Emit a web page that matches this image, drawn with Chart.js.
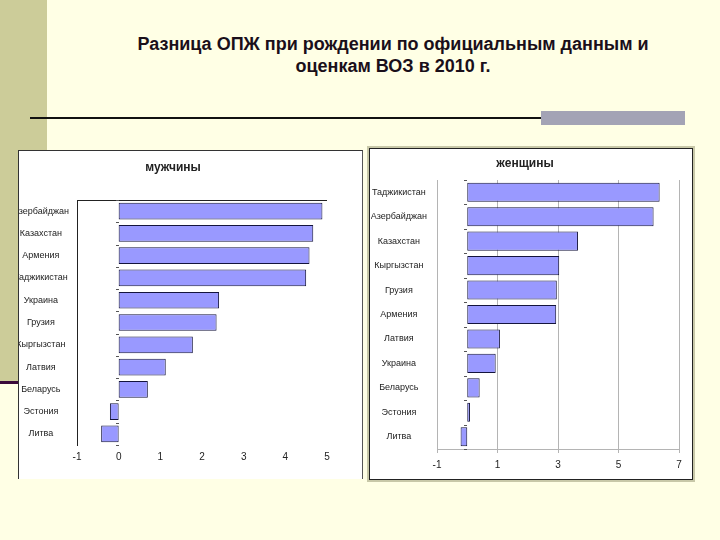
<!DOCTYPE html>
<html lang="ru">
<head>
<meta charset="UTF-8">
<title>Разница ОПЖ</title>
<script src="https://cdn.jsdelivr.net/npm/chart.js"></script>
<style>
  body { margin: 0; background: #ffffe5; font-family: "Liberation Sans", Arial, sans-serif; }
  .slide { position: relative; width: 720px; height: 540px; overflow: hidden; background: #ffffe5; }
  .strip { position: absolute; left: 0; top: 0; width: 47px; height: 381px; background: #cccc99; }
  .strip-line { position: absolute; left: 0; top: 381px; width: 47px; height: 3px; background: #3a0a3a; }
  .title { position: absolute; left: 90px; top: 33px; width: 606px; text-align: center;
           font-weight: bold; font-size: 18px; line-height: 22px; color: #1a0f1a; }
  .rule { position: absolute; left: 30px; top: 117px; width: 512px; height: 2px; background: #111; }
  .rule-block { position: absolute; left: 541px; top: 111px; width: 144px; height: 14px; background: #a3a3b5; }
  .panel-m { position: absolute; left: 18px; top: 150px; width: 343px; height: 328px; background: #fff;
             border-left: 1px solid #333; border-top: 1px solid #333; border-right: 1px solid #555; }
  .panel-w { position: absolute; left: 369px; top: 148px; width: 322px; height: 330px; background: #fff;
             border: 1px solid #222; outline: 2px solid #c8c8a8; }
  canvas { position: absolute; }
</style>
</head>
<body>
<div class="slide">
  <div class="strip"></div>
  <div class="strip-line"></div>
  <div class="title">Разница ОПЖ при рождении по официальным данным и<br>оценкам ВОЗ в 2010 г.</div>
  <div class="rule"></div>
  <div class="rule-block"></div>
  <div class="panel-m"><canvas id="menChart" style="left:0;top:0;width:343px;height:327px"></canvas></div>
  <div class="panel-w"><canvas id="womenChart" style="left:1px;top:1px;width:321px;height:329px"></canvas></div>
</div>

<script>
  // мужчины
  var menLabels = ['Азербайджан', 'Казахстан', 'Армения', 'Таджикистан', 'Украина', 'Грузия',
                   'Кыргызстан', 'Латвия', 'Беларусь', 'Эстония', 'Литва'];
  var menValues = [4.89, 4.67, 4.58, 4.50, 2.41, 2.35, 1.78, 1.13, 0.70, -0.21, -0.42];
  var menTicks = [-1, 0, 1, 2, 3, 4, 5];

  // женщины
  var womenLabels = ['Таджикистан', 'Азербайджан', 'Казахстан', 'Кыргызстан', 'Грузия', 'Армения',
                     'Латвия', 'Украина', 'Беларусь', 'Эстония', 'Литва'];
  var womenValues = [6.36, 6.16, 3.66, 3.04, 2.96, 2.94, 1.08, 0.94, 0.41, 0.09, -0.22];
  var womenTicks = [-1, 1, 3, 5, 7];

  var barFill = '#9999ff';
  var barEdge = '#14143c';
  var catFont = { family: '"Liberation Sans", Arial, sans-serif', size: 9 };
  var valFont = { family: '"Liberation Sans", Arial, sans-serif', size: 10 };

  // top frame line + little category ticks at zero
  var frameLines = {
    id: 'frameLines',
    afterDraw: function (chart, args, opts) {
      var ctx = chart.ctx, a = chart.chartArea;
      var x = chart.scales.x, y = chart.scales.y;
      ctx.save();
      if (opts.top) {
        ctx.strokeStyle = '#222';
        ctx.lineWidth = 1;
        ctx.beginPath();
        ctx.moveTo(a.left, a.top + 0.5);
        ctx.lineTo(a.right, a.top + 0.5);
        ctx.stroke();
      }
      var x0 = Math.round(x.getPixelForValue(0));
      var n = y.ticks.length;
      var band = (a.bottom - a.top) / n;
      ctx.strokeStyle = '#555';
      ctx.lineWidth = 1;
      for (var i = 0; i <= n; i++) {
        var yy = Math.round(a.top + band * i) + 0.5;
        ctx.beginPath();
        ctx.moveTo(x0 - 3, yy);
        ctx.lineTo(x0, yy);
        ctx.stroke();
      }
      ctx.restore();
    }
  };

  function makeChart(id, labels, values, ticks, o) {
    return new Chart(document.getElementById(id), {
      type: 'bar',
      data: {
        labels: labels,
        datasets: [{
          data: values,
          backgroundColor: barFill,
          borderColor: barEdge,
          borderWidth: 1,
          borderSkipped: false,
          categoryPercentage: 1,
          barPercentage: o.barPct
        }]
      },
      options: {
        indexAxis: 'y',
        responsive: false,
        animation: false,
        layout: { padding: { left: 0, right: o.padRight, top: 0, bottom: 0 } },
        plugins: {
          legend: { display: false },
          tooltip: { enabled: false },
          title: {
            display: true,
            text: o.title,
            color: '#222',
            font: { family: '"Liberation Sans", Arial, sans-serif', size: 12, weight: 'bold' },
            padding: o.titlePad
          },
          frameLines: { top: o.topLine }
        },
        scales: {
          x: {
            type: 'linear',
            min: ticks[0],
            max: ticks[ticks.length - 1],
            afterBuildTicks: function (s) { s.ticks = ticks.map(function (v) { return { value: v }; }); },
            afterFit: function (s) { s.height = o.xHeight; },
            grid: { display: o.grid, color: '#b4b4b4', drawTicks: o.grid, tickLength: 4 },
            border: { display: o.grid, color: '#b4b4b4' },
            ticks: { color: '#222', font: valFont, padding: o.xTickPad, maxRotation: 0 }
          },
          y: {
            afterFit: function (s) { s.width = o.yWidth; },
            grid: { display: false },
            border: { display: true, color: o.grid ? '#b4b4b4' : '#222' },
            ticks: { color: '#222', font: catFont, crossAlign: 'center', autoSkip: false, padding: o.yTickPad }
          }
        }
      },
      plugins: [frameLines]
    });
  }

  var menCanvas = document.getElementById('menChart');
  menCanvas.width = 343; menCanvas.height = 327;
  var womenCanvas = document.getElementById('womenChart');
  womenCanvas.width = 321; womenCanvas.height = 329;

  makeChart('menChart', menLabels, menValues, menTicks, {
    title: 'мужчины', titlePad: { top: 9, bottom: 25.6 }, padRight: 35,
    yWidth: 58, yTickPad: 0, xHeight: 33, xTickPad: 6, grid: false, topLine: true, barPct: 0.75
  });

  makeChart('womenChart', womenLabels, womenValues, womenTicks, {
    title: 'женщины', titlePad: { top: 6, bottom: 9.6 }, padRight: 13,
    yWidth: 66, yTickPad: 2, xHeight: 30, xTickPad: 6, grid: true, topLine: false, barPct: 0.78
  });
</script>
</body>
</html>
